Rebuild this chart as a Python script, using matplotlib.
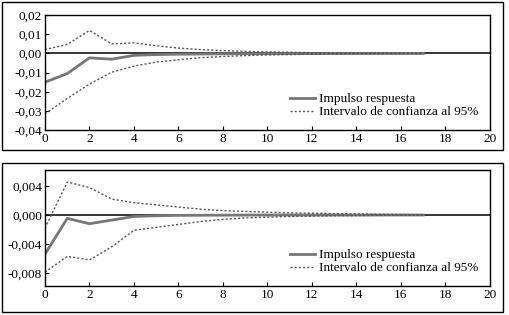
import numpy as np
import matplotlib
matplotlib.use("Agg")
import matplotlib.pyplot as plt
from matplotlib.patches import Rectangle
from matplotlib.ticker import FuncFormatter

plt.rcParams['font.family'] = ['Liberation Serif', 'DejaVu Serif']

periodos = list(range(0, 18))

# panel superior
imp1 = [-0.015, -0.0105, -0.0023, -0.003, -0.001, -0.0006, -0.0004, -0.0003, -0.0002,
        -0.00015, -0.0001, -0.00008, -0.00006, -0.00004, -0.00003, -0.00002, -0.00001, 0.0]
sup1 = [0.002, 0.0047, 0.012, 0.005, 0.0055, 0.004, 0.0028, 0.002, 0.0015,
        0.0011, 0.0008, 0.0006, 0.0004, 0.0003, 0.0002, 0.00012, 0.00006, 0.0]
inf1 = [-0.0315, -0.0235, -0.016, -0.0098, -0.0066, -0.0045, -0.0033, -0.0022, -0.0016,
        -0.0011, -0.0008, -0.0006, -0.0004, -0.0003, -0.0002, -0.00012, -0.00006, 0.0]

# panel inferior
imp2 = [-0.0054, -0.00046, -0.0012, -0.0007, -0.0002, -0.0001, -0.00005, -0.00003, -0.00002,
        -0.00001, 0.0, 0.0, 0.0, 0.0, 0.0, 0.0, 0.0, 0.0]
sup2 = [-0.0018, 0.00455, 0.0038, 0.0022, 0.0017, 0.0014, 0.0011, 0.0008, 0.0006,
        0.0005, 0.0004, 0.0003, 0.00025, 0.0002, 0.00015, 0.0001, 0.00006, 0.00003]
inf2 = [-0.0079, -0.0057, -0.0062, -0.0044, -0.0021, -0.0017, -0.0013, -0.0009, -0.0006,
        -0.0004, -0.0003, -0.0002, -0.00015, -0.0001, -0.00008, -0.00005, -0.00003, -0.00001]

fig = plt.figure(figsize=(5.09, 3.15), dpi=100)

# marcos exteriores
for y0, h in [(0.524, 0.47), (0.0095, 0.473)]:
    fig.patches.append(Rectangle((0.004, y0), 0.985, h, transform=fig.transFigure,
                                 fill=False, edgecolor='black', linewidth=1))

ax1 = fig.add_axes([0.0884, 0.587, 0.874, 0.365])
ax2 = fig.add_axes([0.0884, 0.092, 0.874, 0.368])

def panel(ax, imp, sup, inf, ylim, yticks, dec):
    ax.axhline(0, color='black', linewidth=1.1)
    ax.plot(periodos, imp, color='#777777', linewidth=2, label='Impulso respuesta')
    ax.plot(periodos, sup, color='#555555', linewidth=1, linestyle=(0, (1.5, 1.5)),
            label='Intervalo de confianza al 95%')
    ax.plot(periodos, inf, color='#555555', linewidth=1, linestyle=(0, (1.5, 1.5)))
    ax.set_xlim(0, 20)
    ax.set_ylim(*ylim)
    ax.set_xticks(range(0, 21, 2))
    ax.set_yticks(yticks)
    ax.yaxis.set_major_formatter(FuncFormatter(
        lambda v, p: (f"{v:.{dec}f}").replace('.', ',').replace('-0,' + '0' * dec, '0,' + '0' * dec)))
    ax.tick_params(direction='in', length=3, labelsize=9.5, pad=2)
    for s in ax.spines.values():
        s.set_linewidth(1)
    leg = ax.legend(loc='lower right', frameon=False, fontsize=9.5, handlelength=1.9,
                    handletextpad=0.25, labelspacing=0.05, borderaxespad=0.5)
    return leg

panel(ax1, imp1, sup1, inf1, (-0.04, 0.02), [-0.04, -0.03, -0.02, -0.01, 0.0, 0.01, 0.02], 2)
panel(ax2, imp2, sup2, inf2, (-0.0098, 0.0062), [-0.008, -0.004, 0.0, 0.004], 3)

fig.savefig("out.png", dpi=100)
